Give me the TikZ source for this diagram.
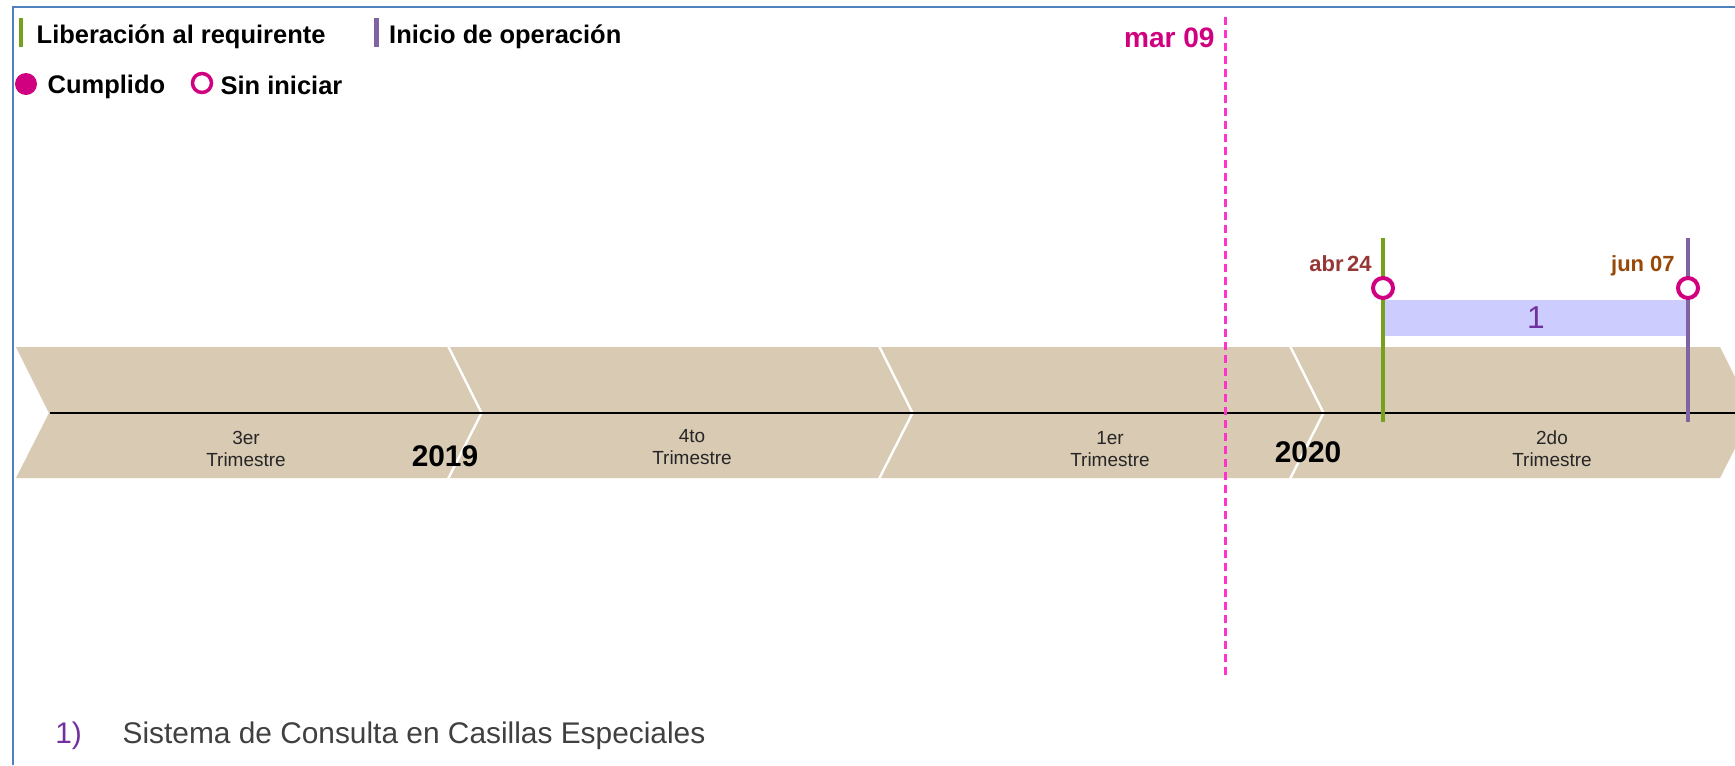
\documentclass[tikz,border=0pt]{standalone}
\usepackage{fontspec}
\setmainfont{Liberation Sans}
\usepackage{xcolor}
\usepackage{tikz}
\usetikzlibrary{shapes.geometric, arrows, positioning}
\definecolor{framecol}{RGB}{79,129,189}
\definecolor{chevcol}{RGB}{217,202,179}
\definecolor{libgreen}{RGB}{119,160,28}
\definecolor{opviolet}{RGB}{128,100,162}
\definecolor{markcol}{RGB}{208,0,128}
\definecolor{dashpink}{RGB}{255,51,204}
\definecolor{barcol}{RGB}{204,204,255}
\definecolor{onecol}{RGB}{112,48,160}
\definecolor{abrcol}{RGB}{149,55,53}
\definecolor{juncol}{RGB}{152,72,7}
\definecolor{quartcol}{RGB}{38,38,38}
\definecolor{itemcol}{RGB}{64,64,64}
\tikzstyle{legtext} = [font=\fontsize{14.5}{17}\selectfont\bfseries, inner sep=0pt]
\tikzstyle{legbar} = [rectangle, minimum width=0.1cm, minimum height=0.58cm, inner sep=0pt]
\tikzstyle{quarter} = [font=\fontsize{10.8}{12.5}\selectfont, text=quartcol, align=center, inner sep=0pt]
\tikzstyle{yearlabel} = [font=\fontsize{17}{20}\selectfont\bfseries, inner sep=0pt, anchor=base]
\tikzstyle{datelabel} = [font=\fontsize{12.5}{15}\selectfont\bfseries, inner sep=0pt, anchor=base east]
\tikzstyle{milestone} = [circle, draw=markcol, line width=0.08cm, fill=white, minimum size=0.4cm, inner sep=0pt]
\tikzstyle{itemtext} = [font=\fontsize{17}{20}\selectfont, inner sep=0pt]
\tikzstyle{mline} = [line width=0.08cm]

\begin{document}
\begin{tikzpicture}[x=0.02cm, y=-0.02cm]
                \useasboundingbox (0,0) rectangle (1735,765);
                \draw [framecol, line width=0.04cm] (13,765) -- (13,7) -- (1735,7);

% ---------------------------------------------
% Legend
% ---------------------------------------------
                \node (leg_lib_bar) [legbar, fill=libgreen] at (21,32.5) {};
                \node (leg_lib) [legtext, base right=0.25cm of leg_lib_bar, yshift=-0.21cm] {Liberación al requirente};
                \node (leg_op_bar) [legbar, fill=opviolet] at (376,32.5) {};
                \node (leg_op) [legtext, base right=0.2cm of leg_op_bar, yshift=-0.21cm] {Inicio de operación};

                \node (leg_done) [circle, fill=markcol, minimum size=0.44cm, inner sep=0pt] at (26,84) {};
                \node (leg_done_txt) [legtext, base right=0.2cm of leg_done, yshift=-0.19cm] {Cumplido};
                \node (leg_open) [milestone, line width=0.07cm, minimum size=0.38cm] at (202,83) {};
                \node (leg_open_txt) [legtext, base right=0.14cm of leg_open, yshift=-0.23cm] {Sin iniciar};

% ---------------------------------------------
% Quarters (chevrons)
% ---------------------------------------------
                \begin{scope}
                \clip (0,0) rectangle (1735,765);
                \foreach \xl/\xr in {16/447, 450/878, 881/1289, 1292/1720}
                    \fill [chevcol] (\xl,347) -- (\xr,347) -- (\xr+33,413) -- (\xr,478) -- (\xl,478) -- (\xl+33,413) -- cycle;
                \end{scope}

                \coordinate (axis_start) at (50,413);
                \coordinate (axis_end) at (1735,413);
                \draw [black, line width=0.04cm] (axis_start) -- (axis_end);

                \node (q3) [quarter] at (246,449) {3er\\Trimestre};
                \node (q4) [quarter] at (692,447) {4to\\Trimestre};
                \node (q1) [quarter] at (1110,449) {1er\\Trimestre};
                \node (q2) [quarter] at (1552,449) {2do\\Trimestre};

                \node (y2019) [yearlabel] at (445,466) {2019};
                \node (y2020) [yearlabel] at (1308,462) {2020};

% ---------------------------------------------
% Today (dashed line)
% ---------------------------------------------
                \coordinate (today_top) at (1225,17);
                \coordinate (today_bot) at (1225,677);
                \draw [dashpink, line width=0.06cm, dash pattern=on 0.16cm off 0.1cm] (today_top) -- (today_bot);
                \node (today) [font=\fontsize{16}{19}\selectfont\bfseries, text=markcol, inner sep=0pt, anchor=base east] at (1215,47) {mar 09};

% ---------------------------------------------
% Project 1
% ---------------------------------------------
                \node (bar_1) [rectangle, fill=barcol, minimum width=6.04cm, minimum height=0.72cm, inner sep=0pt, font=\fontsize{18}{21}\selectfont, text=onecol] at (1536,318) {1};

                \coordinate (lib_top) at (1383,238);
                \coordinate (lib_bot) at (1383,422);
                \coordinate (op_top) at (1688,238);
                \coordinate (op_bot) at (1688,422);
                \draw [mline, libgreen] (lib_top) -- (lib_bot);
                \draw [mline, opviolet] (op_top) -- (op_bot);

                \node (m_abr) [milestone] at (1383,288) {};
                \node (m_jun) [milestone] at (1688,288) {};
                \node (d_abr) [datelabel, text=abrcol] at (1372,271) {abr\,24};
                \node (d_jun) [datelabel, text=juncol] at (1675,271) {jun 07};

% ---------------------------------------------
% Notes
% ---------------------------------------------
                \node (item_1) [itemtext, text=onecol, anchor=base west] at (55,743) {1)};
                \node (item_1_txt) [itemtext, text=itemcol, base right=0.8cm of item_1] {Sistema de Consulta en Casillas Especiales};
\end{tikzpicture}
\end{document}
